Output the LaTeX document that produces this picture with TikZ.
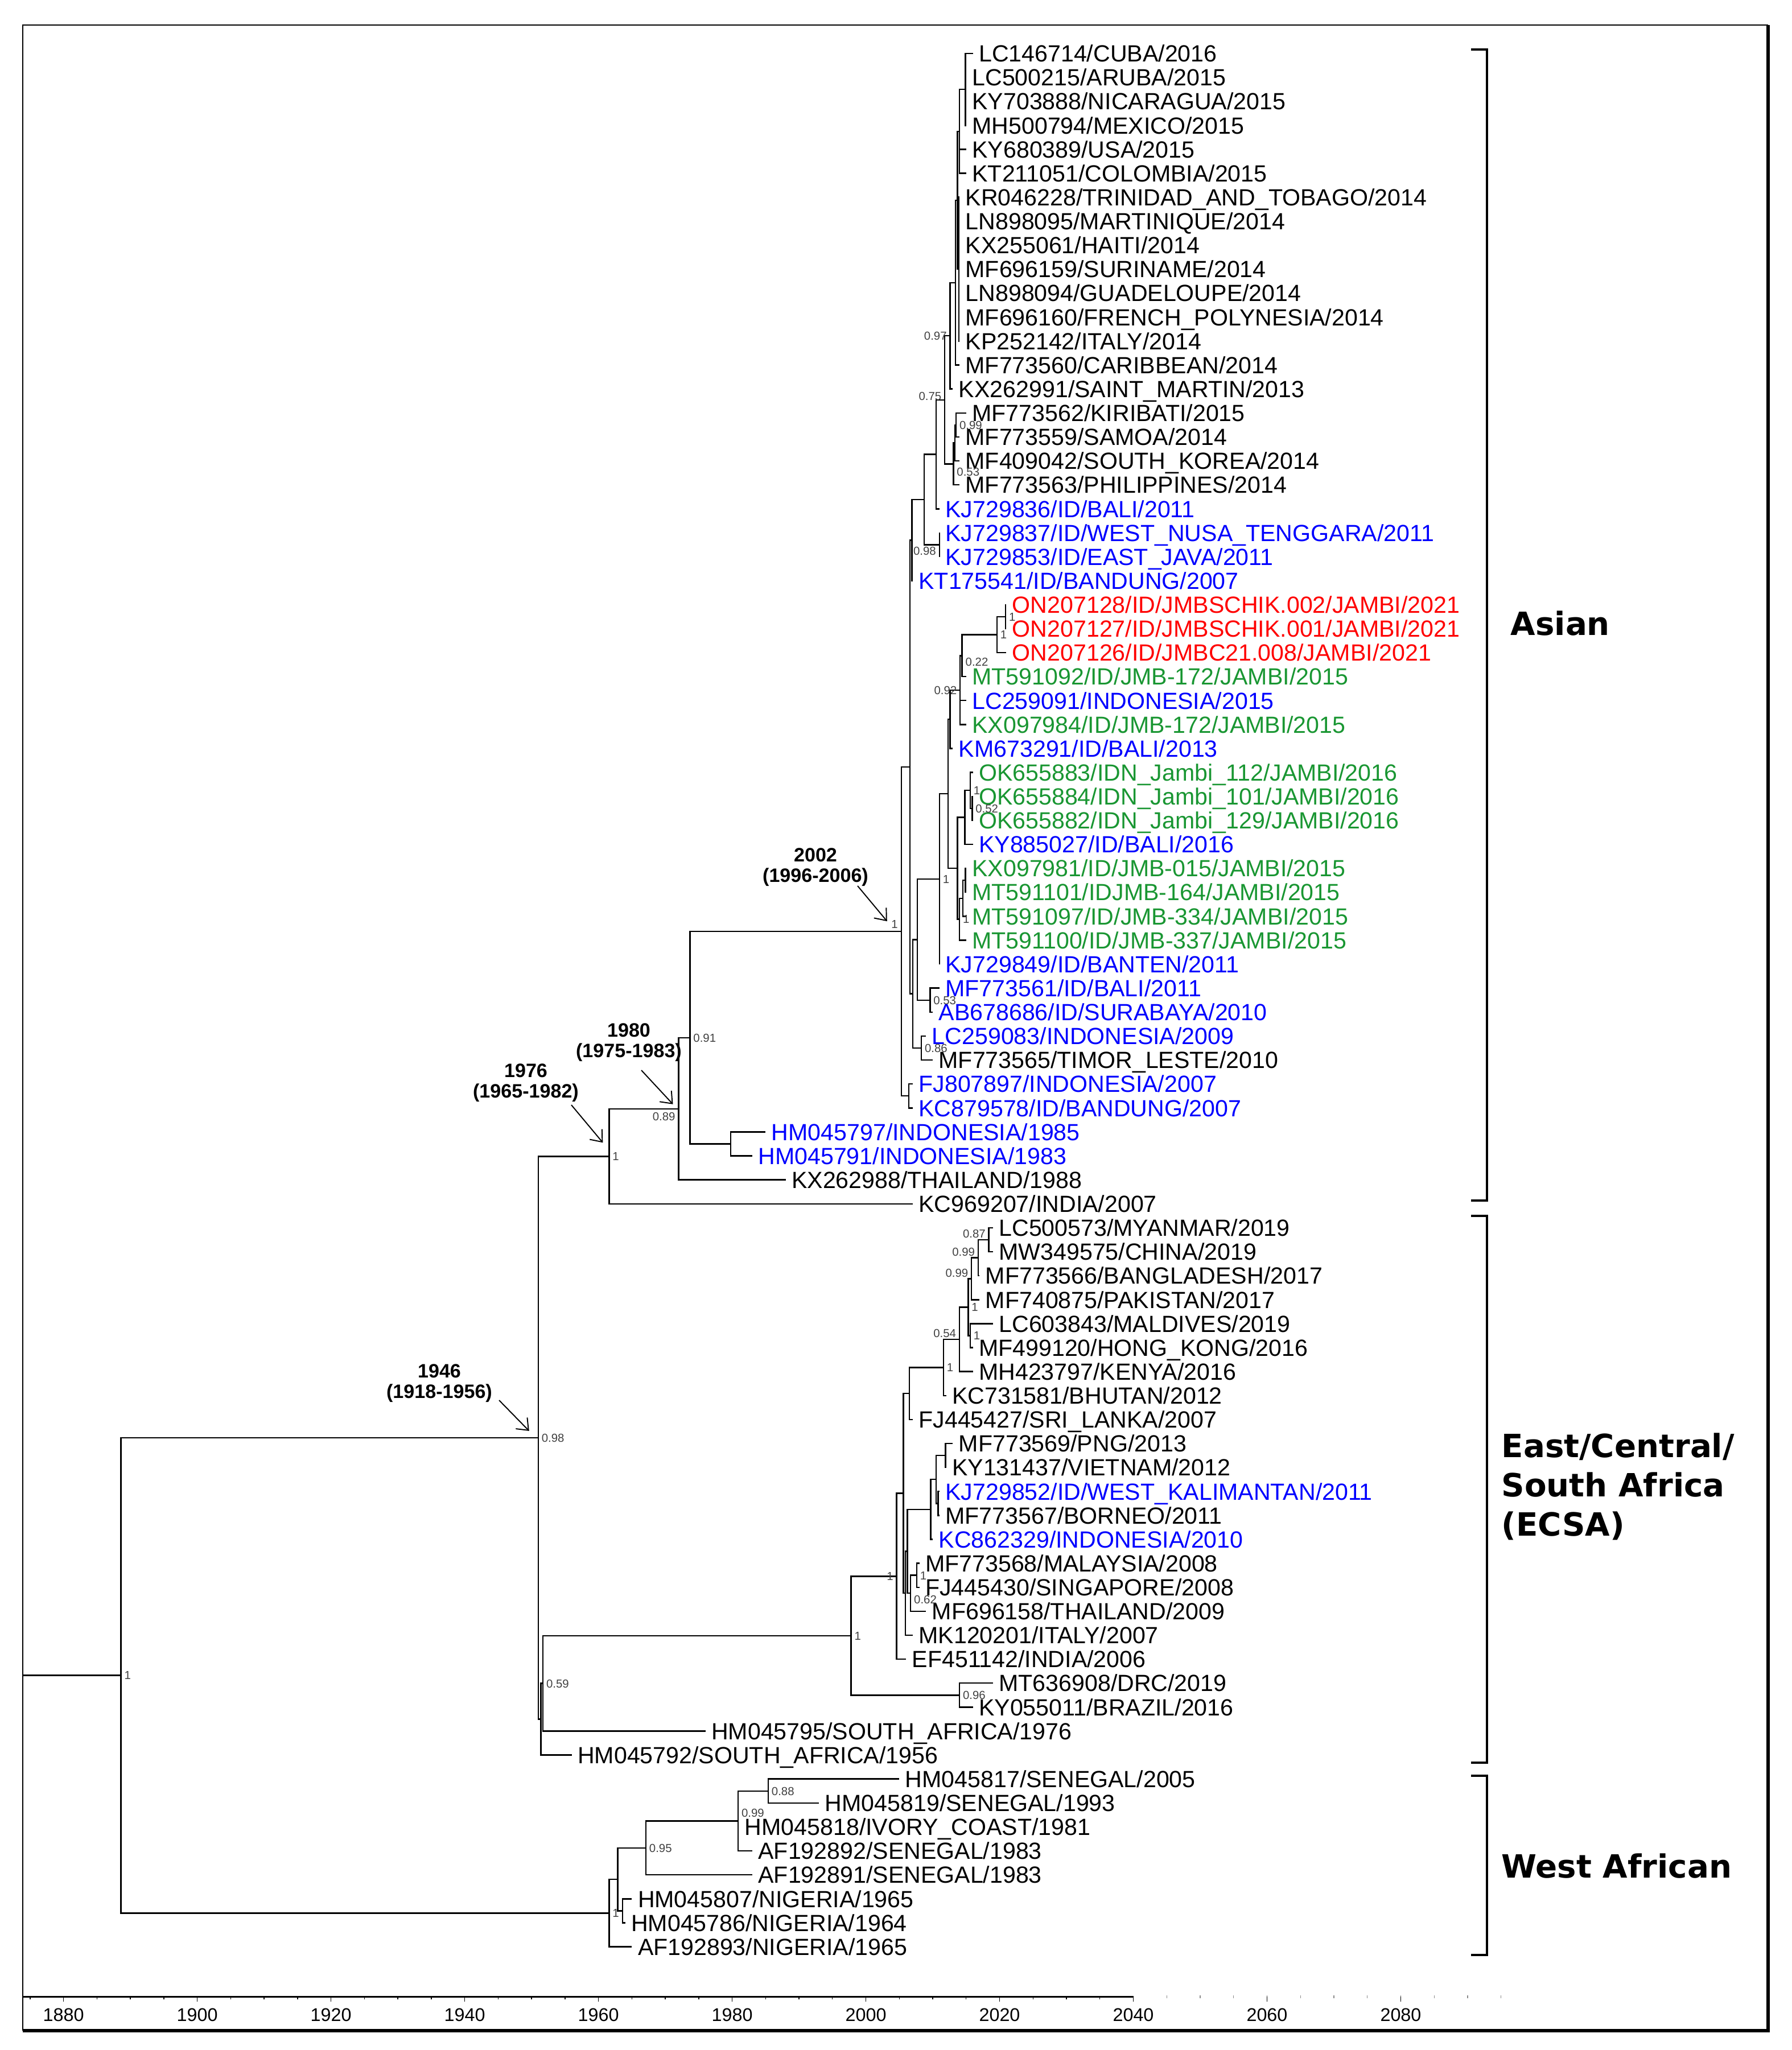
\documentclass[tikz,border=0pt]{standalone}
\usepackage{fontspec}
\setmainfont{Liberation Sans}
\newfontfamily\cladefont{DejaVu Sans}
\usetikzlibrary{positioning}
\usetikzlibrary{arrows.meta}
\usetikzlibrary{calc}
\colorlet{myblue}{blue}
\colorlet{myred}{red}
\definecolor{mygreen}{RGB}{25,150,50}
\colorlet{mygrey}{black!75}
\tikzstyle{branch}=[line width=0.7pt]
\tikzstyle{tiplab}=[#1,inner sep=0pt,text height=8.4pt,text depth=0pt,
                    font=\fontsize{11.7}{12}\selectfont]
\tikzstyle{suplab}=[mygrey,inner sep=1.5pt,text height=4.2pt,text depth=0pt,
                    font=\fontsize{5.8}{6}\selectfont]
\tikzstyle{datelab}=[align=center,inner sep=0pt,font=\bfseries\fontsize{9.7}{10.1}\selectfont]
\tikzstyle{datearrow}=[-{Straight Barb[length=5pt,width=8pt]},line width=0.55pt]
\tikzstyle{cladelab}=[anchor=west,align=left,inner sep=0pt,
                      font=\cladefont\bfseries\fontsize{16}{19.6}\selectfont]
\tikzstyle{bracket}=[line width=0.9pt]
\tikzstyle{axislab}=[inner sep=0pt,font=\fontsize{9.2}{10}\selectfont]
% tip: name, row, year, colour, text
\def\tip(#1)#2#3#4#5{
  \coordinate (#1) at (#3,#2);
  \node[tiplab=#4,right=1mm of #1] (#1l) {#5};
}
% clade: name, row, year, children
\def\clade(#1)#2#3#4{
  \coordinate (#1) at (#3,#2);
  \foreach \ch in {#4} {\draw[branch] (#1) |- (\ch);}
}

\begin{document}
\begin{tikzpicture}
  \useasboundingbox (0,0) rectangle (31.48,-36.03);

  % FRAME
  \draw[line width=0.8pt] (0.40,-35.69) -- (0.40,-0.44) -- (31.07,-0.44);
  \draw[line width=1.8pt] (31.07,-0.44) -- (31.07,-35.69) -- (0.40,-35.69);

  \begin{scope}[x=0.1175cm,y=-0.4212cm,xshift=-219.77cm,yshift=-0.94cm]
  % TIPS - Asian
  \tip(t0){0}{2016}{black}{LC146714/CUBA/2016}
  \tip(t1){1}{2015}{black}{LC500215/ARUBA/2015}
  \tip(t2){2}{2015}{black}{KY703888/NICARAGUA/2015}
  \tip(t3){3}{2015}{black}{MH500794/MEXICO/2015}
  \tip(t4){4}{2015}{black}{KY680389/USA/2015}
  \tip(t5){5}{2015}{black}{KT211051/COLOMBIA/2015}
  \tip(t6){6}{2014}{black}{KR046228/TRINIDAD\_AND\_TOBAGO/2014}
  \tip(t7){7}{2014}{black}{LN898095/MARTINIQUE/2014}
  \tip(t8){8}{2014}{black}{KX255061/HAITI/2014}
  \tip(t9){9}{2014}{black}{MF696159/SURINAME/2014}
  \tip(t10){10}{2014}{black}{LN898094/GUADELOUPE/2014}
  \tip(t11){11}{2014}{black}{MF696160/FRENCH\_POLYNESIA/2014}
  \tip(t12){12}{2014}{black}{KP252142/ITALY/2014}
  \tip(t13){13}{2014}{black}{MF773560/CARIBBEAN/2014}
  \tip(t14){14}{2013}{black}{KX262991/SAINT\_MARTIN/2013}
  \tip(t15){15}{2015}{black}{MF773562/KIRIBATI/2015}
  \tip(t16){16}{2014}{black}{MF773559/SAMOA/2014}
  \tip(t17){17}{2014}{black}{MF409042/SOUTH\_KOREA/2014}
  \tip(t18){18}{2014}{black}{MF773563/PHILIPPINES/2014}
  \tip(t19){19}{2011}{myblue}{KJ729836/ID/BALI/2011}
  \tip(t20){20}{2011}{myblue}{KJ729837/ID/WEST\_NUSA\_TENGGARA/2011}
  \tip(t21){21}{2011}{myblue}{KJ729853/ID/EAST\_JAVA/2011}
  \tip(t22){22}{2007}{myblue}{KT175541/ID/BANDUNG/2007}
  \tip(t23){23}{2021}{myred}{ON207128/ID/JMBSCHIK.002/JAMBI/2021}
  \tip(t24){24}{2021}{myred}{ON207127/ID/JMBSCHIK.001/JAMBI/2021}
  \tip(t25){25}{2021}{myred}{ON207126/ID/JMBC21.008/JAMBI/2021}
  \tip(t26){26}{2015}{mygreen}{MT591092/ID/JMB-172/JAMBI/2015}
  \tip(t27){27}{2015}{myblue}{LC259091/INDONESIA/2015}
  \tip(t28){28}{2015}{mygreen}{KX097984/ID/JMB-172/JAMBI/2015}
  \tip(t29){29}{2013}{myblue}{KM673291/ID/BALI/2013}
  \tip(t30){30}{2016}{mygreen}{OK655883/IDN\_Jambi\_112/JAMBI/2016}
  \tip(t31){31}{2016}{mygreen}{OK655884/IDN\_Jambi\_101/JAMBI/2016}
  \tip(t32){32}{2016}{mygreen}{OK655882/IDN\_Jambi\_129/JAMBI/2016}
  \tip(t33){33}{2016}{myblue}{KY885027/ID/BALI/2016}
  \tip(t34){34}{2015}{mygreen}{KX097981/ID/JMB-015/JAMBI/2015}
  \tip(t35){35}{2015}{mygreen}{MT591101/IDJMB-164/JAMBI/2015}
  \tip(t36){36}{2015}{mygreen}{MT591097/ID/JMB-334/JAMBI/2015}
  \tip(t37){37}{2015}{mygreen}{MT591100/ID/JMB-337/JAMBI/2015}
  \tip(t38){38}{2011}{myblue}{KJ729849/ID/BANTEN/2011}
  \tip(t39){39}{2011}{myblue}{MF773561/ID/BALI/2011}
  \tip(t40){40}{2010}{myblue}{AB678686/ID/SURABAYA/2010}
  \tip(t41){41}{2009}{myblue}{LC259083/INDONESIA/2009}
  \tip(t42){42}{2010}{black}{MF773565/TIMOR\_LESTE/2010}
  \tip(t43){43}{2007}{myblue}{FJ807897/INDONESIA/2007}
  \tip(t44){44}{2007}{myblue}{KC879578/ID/BANDUNG/2007}
  \tip(t45){45}{1985}{myblue}{HM045797/INDONESIA/1985}
  \tip(t46){46}{1983}{myblue}{HM045791/INDONESIA/1983}
  \tip(t47){47}{1988}{black}{KX262988/THAILAND/1988}
  \tip(t48){48}{2007}{black}{KC969207/INDIA/2007}
  % TIPS - ECSA
  \tip(t49){49}{2019}{black}{LC500573/MYANMAR/2019}
  \tip(t50){50}{2019}{black}{MW349575/CHINA/2019}
  \tip(t51){51}{2017}{black}{MF773566/BANGLADESH/2017}
  \tip(t52){52}{2017}{black}{MF740875/PAKISTAN/2017}
  \tip(t53){53}{2019}{black}{LC603843/MALDIVES/2019}
  \tip(t54){54}{2016}{black}{MF499120/HONG\_KONG/2016}
  \tip(t55){55}{2016}{black}{MH423797/KENYA/2016}
  \tip(t56){56}{2012}{black}{KC731581/BHUTAN/2012}
  \tip(t57){57}{2007}{black}{FJ445427/SRI\_LANKA/2007}
  \tip(t58){58}{2013}{black}{MF773569/PNG/2013}
  \tip(t59){59}{2012}{black}{KY131437/VIETNAM/2012}
  \tip(t60){60}{2011}{myblue}{KJ729852/ID/WEST\_KALIMANTAN/2011}
  \tip(t61){61}{2011}{black}{MF773567/BORNEO/2011}
  \tip(t62){62}{2010}{myblue}{KC862329/INDONESIA/2010}
  \tip(t63){63}{2008}{black}{MF773568/MALAYSIA/2008}
  \tip(t64){64}{2008}{black}{FJ445430/SINGAPORE/2008}
  \tip(t65){65}{2009}{black}{MF696158/THAILAND/2009}
  \tip(t66){66}{2007}{black}{MK120201/ITALY/2007}
  \tip(t67){67}{2006}{black}{EF451142/INDIA/2006}
  \tip(t68){68}{2019}{black}{MT636908/DRC/2019}
  \tip(t69){69}{2016}{black}{KY055011/BRAZIL/2016}
  \tip(t70){70}{1976}{black}{HM045795/SOUTH\_AFRICA/1976}
  \tip(t71){71}{1956}{black}{HM045792/SOUTH\_AFRICA/1956}
  % TIPS - West African
  \tip(t72){72}{2005}{black}{HM045817/SENEGAL/2005}
  \tip(t73){73}{1993}{black}{HM045819/SENEGAL/1993}
  \tip(t74){74}{1981}{black}{HM045818/IVORY\_COAST/1981}
  \tip(t75){75}{1983}{black}{AF192892/SENEGAL/1983}
  \tip(t76){76}{1983}{black}{AF192891/SENEGAL/1983}
  \tip(t77){77}{1965}{black}{HM045807/NIGERIA/1965}
  \tip(t78){78}{1964}{black}{HM045786/NIGERIA/1964}
  \tip(t79){79}{1965}{black}{AF192893/NIGERIA/1965}

  % CLADES - Asian
  \clade(A){1.5}{2014.9}{t0,t1,t2,t3}
  \clade(B){3.25}{2014.0}{A,t4,t5}
  \clade(CGs){9}{2013.9}{t6,t7,t8,t9,t10,t11,t12}
  \clade(X1){6.125}{2013.7}{B,CGs}
  \clade(C){9.5625}{2013.4}{X1,t13}
  \clade(D){11.781}{2012.6}{C,t14}
  \clade(KIRSAM){15.5}{2013.5}{t15,t16}
  \clade(KS){16.25}{2013.3}{KIRSAM,t17}
  \clade(P){17.125}{2013.1}{KS,t18}
  \clade(E){14.453}{2011.8}{D,P}
  \clade(F){16.727}{2010.5}{E,t19}
  \clade(N98){20.5}{2011.0}{t20,t21}
  \clade(G){18.613}{2008.7}{F,N98}
  \clade(Q){20.307}{2006.9}{G,t22}
  \clade(RDi){23.5}{2020.9}{t23,t24}
  \clade(RD){24.25}{2019.6}{RDi,t25}
  \clade(J22){25.125}{2014.4}{RD,t26}
  \clade(J92){26.5625}{2014.1}{J22,t27,t28}
  \clade(K){27.781}{2012.6}{J92,t29}
  \clade(O1){31.5}{2015.9}{t31,t32}
  \clade(O2){30.75}{2015.6}{t30,O1}
  \clade(O3){31.875}{2014.8}{O2,t33}
  \clade(JB1){34.5}{2014.9}{t34,t35}
  \clade(JB2){35.25}{2014.5}{JB1,t36}
  \clade(JB3){36.125}{2014.0}{JB2,t37}
  \clade(Wb){34}{2013.7}{O3,JB3}
  \clade(W){30.891}{2012.3}{K,Wb}
  \clade(V){34.445}{2011.0}{W,t38}
  \clade(N53){39.5}{2009.6}{t39,t40}
  \clade(U){36.973}{2007.7}{V,N53}
  \clade(N86){41.5}{2008.3}{t41,t42}
  \clade(T){39.236}{2007.0}{U,N86}
  \clade(S){29.772}{2006.6}{Q,T}
  \clade(FJKC){43.5}{2006.4}{t43,t44}
  \clade(R){36.636}{2005.3}{S,FJKC}
  \clade(HMp){45.5}{1979.8}{t45,t46}
  \clade(N91){41.068}{1973.7}{R,HMp}
  \clade(N1980){44.034}{1972.0}{N91,t47}
  \clade(N1976){46.017}{1961.6}{N1980,t48}
  % CLADES - ECSA
  \clade(N87){49.5}{2018.4}{t49,t50}
  \clade(N99a){50.25}{2016.8}{N87,t51}
  \clade(N99b){51.125}{2015.8}{N99a,t52}
  \clade(NMH){53.5}{2015.6}{t53,t54}
  \clade(N1b){52.313}{2015.3}{N99b,NMH}
  \clade(NK){53.656}{2014.0}{N1b,t55}
  \clade(NB){54.828}{2011.6}{NK,t56}
  \clade(NS){55.914}{2006.5}{NB,t57}
  \clade(PV){58.5}{2011.9}{t58,t59}
  \clade(KB){60.5}{2010.8}{t60,t61}
  \clade(PV2){59.5}{2010.5}{PV,KB}
  \clade(NI){60.75}{2009.7}{PV2,t62}
  \clade(NMS){63.5}{2007.6}{t63,t64}
  \clade(N62){64.25}{2006.7}{NMS,t65}
  \clade(NX){62.5}{2006.2}{NI,N62}
  \clade(NY){64.25}{2005.9}{NX,t66}
  \clade(EUa){60.082}{2005.6}{NS,NY}
  \clade(EU){63.541}{2004.6}{EUa,t67}
  \clade(DRC){68.5}{2014.0}{t68,t69}
  \clade(EB){66.02}{1997.8}{EU,DRC}
  \clade(M1){68.01}{1951.7}{EB,t70}
  \clade(M2){69.505}{1951.4}{M1,t71}
  \clade(N1946){57.761}{1951.0}{N1976,M2}
  % CLADES - West African
  \clade(N88){72.5}{1985.4}{t72,t73}
  \clade(N99w){73.75}{1980.9}{N88,t74,t75}
  \clade(N95){74.875}{1967.1}{N99w,t76}
  \clade(NG){77.5}{1963.6}{t77,t78}
  \clade(WA1){76.188}{1962.9}{N95,NG}
  \clade(WA){77.594}{1961.6}{WA1,t79}
  % ROOT
  \clade(root){67.677}{1888.6}{N1946,WA}
  \coordinate (stem) at (1873.9,67.677);
  \draw[branch] (stem) -- (root);
  \end{scope}

  % SUPPORT
  \node[suplab,left] (D-s) at (D) {0.97};
  \node[suplab,left,yshift=2pt] (E-s) at (E) {0.75};
  \node[suplab,right] (KIRSAM-s) at (KIRSAM) {0.99};
  \node[suplab,right,yshift=-4pt] (P-s) at (P) {0.53};
  \node[suplab,left,yshift=-3pt] (N98-s) at (N98) {0.98};
  \node[suplab,right] (RDi-s) at (RDi) {1};
  \node[suplab,right] (RD-s) at (RD) {1};
  \node[suplab,right,yshift=-3pt] (J22-s) at (J22) {0.22};
  \node[suplab,left] (J92-s) at (J92) {0.92};
  \node[suplab,right] (O2-s) at (O2) {1};
  \node[suplab,right] (O1-s) at (O1) {0.52};
  \node[suplab,right] (V-s) at (V) {1};
  \node[suplab,right] (JB3-s) at (JB3) {1};
  \node[suplab,right] (N53-s) at (N53) {0.53};
  \node[suplab,right] (N86-s) at (N86) {0.86};
  \node[suplab,above left] (R-s) at (R) {1};
  \node[suplab,right] (N91-s) at (N91) {0.91};
  \node[suplab,below left] (N1980-s) at (N1980) {0.89};
  \node[suplab,right] (N1976-s) at (N1976) {1};
  \node[suplab,right] (N1946-s) at (N1946) {0.98};
  \node[suplab,right] (M1-s) at (M1) {0.59};
  \node[suplab,right] (root-s) at (root) {1};
  \node[suplab,left,yshift=3pt] (N87-s) at (N87) {0.87};
  \node[suplab,left,yshift=3pt] (N99a-s) at (N99a) {0.99};
  \node[suplab,left,yshift=3pt] (N99b-s) at (N99b) {0.99};
  \node[suplab,right] (N1b-s) at (N1b) {1};
  \node[suplab,right] (NMH-s) at (NMH) {1};
  \node[suplab,left,yshift=3pt] (NK-s) at (NK) {0.54};
  \node[suplab,right] (NB-s) at (NB) {1};
  \node[suplab,left] (EU-s) at (EU) {1};
  \node[suplab,right] (NMS-s) at (NMS) {1};
  \node[suplab,right,yshift=-3pt] (N62-s) at (N62) {0.62};
  \node[suplab,right] (EB-s) at (EB) {1};
  \node[suplab,right] (DRC-s) at (DRC) {0.96};
  \node[suplab,right] (N88-s) at (N88) {0.88};
  \node[suplab,right,yshift=4pt] (N99w-s) at (N99w) {0.99};
  \node[suplab,right] (N95-s) at (N95) {0.95};
  \node[suplab,right] (WA-s) at (WA) {1};

  % DATES
  \node[datelab] (d2002) at (14.33,-15.24) {2002\\(1996-2006)};
  \draw[datearrow] ([shift={(0.74,-0.33)}]d2002.center) -- ([shift={(-0.25,0.18)}]R);
  \node[datelab] (d1980) at (11.05,-18.32) {1980\\(1975-1983)};
  \draw[datearrow] ([shift={(0.22,-0.49)}]d1980.center) -- ([shift={(-0.10,0.08)}]N1980);
  \node[datelab] (d1976) at (9.24,-19.03) {1976\\(1965-1982)};
  \draw[datearrow] ([shift={(0.80,-0.39)}]d1976.center) -- ([shift={(-0.11,0.24)}]N1976);
  \node[datelab] (d1946) at (7.72,-24.31) {1946\\(1918-1956)};
  \draw[datearrow] ([shift={(1.05,-0.30)}]d1946.center) -- ([shift={(-0.16,0.12)}]N1946);

  % BRACKETS
  \draw[bracket] (25.85,-0.87) -| (26.13,-21.10) -- (25.85,-21.10);
  \draw[bracket] (25.85,-21.37) -| (26.13,-30.98) -- (25.85,-30.98);
  \draw[bracket] (25.85,-31.21) -| (26.13,-34.36) -- (25.85,-34.36);
  \node[cladelab] (asian) at (26.54,-10.96) {Asian};
  \node[cladelab] (ecsa) at (26.38,-26.13) {East/Central/\\South Africa\\(ECSA)};
  \node[cladelab] (westaf) at (26.38,-32.79) {West African};

  % AXIS
  \begin{scope}[x=0.1175cm,xshift=-219.77cm]
  \draw[line width=0.85pt] (1873.9,-35.09) -- (2040,-35.09);
  \foreach \yy in {1875,1880,...,2040} {\draw[line width=0.4pt] (\yy,-35.09) -- ++(0,-0.05);}
  \foreach \yy in {2045,2050,...,2095} {\draw[black!45,line width=0.4pt] (\yy,-35.07) -- ++(0,-0.05);}
  \foreach \yy in {1880,1900,...,2080} {
    \draw[line width=0.4pt] (\yy,-35.09) -- ++(0,-0.09);
    \node[axislab] (ax\yy) at (\yy,-35.41) {\yy};
  }
  \end{scope}
\end{tikzpicture}
\end{document}
